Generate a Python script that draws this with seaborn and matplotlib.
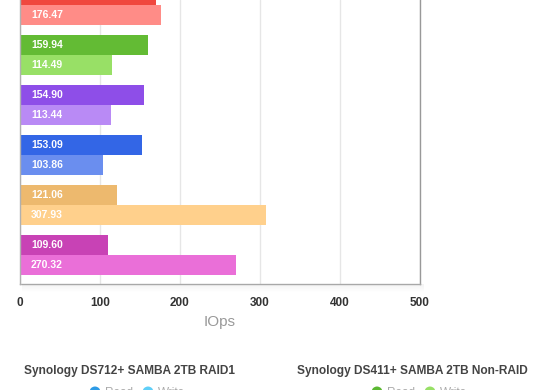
import matplotlib
matplotlib.use("Agg")
import matplotlib.pyplot as plt
import pandas as pd
import seaborn as sns
from matplotlib.patches import Rectangle, Ellipse

# --- data (top group is cut off in the reference) ---
devices = [
    "Device A",
    "Synology DS411+ SAMBA 2TB Non-RAID",
    "Device C",
    "Device D",
    "Device E",
    "Device F",
]
read_iops = [170.0, 159.94, 154.90, 153.09, 121.06, 109.60]
write_iops = [176.47, 114.49, 113.44, 103.86, 307.93, 270.32]

read_colors = ["#f0483e", "#63bb34", "#8e4ee8", "#3366e6", "#edb96e", "#c842b5"]
write_colors = ["#ff8c87", "#98e066", "#b98af5", "#6a8eef", "#ffd08c", "#ea6fd8"]

ticks = [0, 100, 200, 300, 400, 500]

legend_titles = ["Synology DS712+ SAMBA 2TB RAID1", "Synology DS411+ SAMBA 2TB Non-RAID"]
legend_colors = [("#2d9be6", "#5fcff8"), ("#5bb832", "#98e066")]

df = pd.DataFrame({
    "Device": devices * 2,
    "Op": ["Read"] * len(devices) + ["Write"] * len(devices),
    "IOps": read_iops + write_iops,
})

sns.set_theme(style="white")
plt.rcParams["font.family"] = ["Liberation Sans", "DejaVu Sans"]

W, H = 560, 390
fig = plt.figure(figsize=(W / 100, H / 100), dpi=100)
ax = fig.add_axes([20 / W, 106 / H, 400 / W, 284 / H])

sns.barplot(data=df, y="Device", x="IOps", hue="Op", orient="h",
            width=0.8, saturation=1, legend=False, ax=ax, errorbar=None)

# recolour each bar and write its value inside, at the left
for cont, cols, vals in zip(ax.containers, [read_colors, write_colors], [read_iops, write_iops]):
    for bar, c, v in zip(cont, cols, vals):
        bar.set_facecolor(c)
        bar.set_edgecolor("none")
        yc = bar.get_y() + bar.get_height() / 2
        ax.annotate(f"{v:.2f}", xy=(0, yc), xytext=(8, 0), textcoords="offset points",
                    ha="left", va="center", color="white", fontsize=7.5,
                    fontweight="bold", annotation_clip=False)

ax.set_xlim(0, 500)
ax.set_ylim(5.58, -0.1)
ax.set_xticks(ticks)
ax.set_xticklabels([str(t) for t in ticks], fontsize=8.5, fontweight="bold", color="#333333")
ax.tick_params(axis="x", length=0, pad=9)
ax.set_yticks([])
ax.set_ylabel("")
ax.set_xlabel("IOps", fontsize=11, color="#999999", labelpad=5)

ax.grid(axis="x", color="#e6e6e6", linewidth=1)
ax.set_axisbelow(True)
for side in ["left", "bottom"]:
    ax.spines[side].set_color("#b0b0b0")
    ax.spines[side].set_linewidth(1)
ax.spines["right"].set_color("#999999")
ax.spines["right"].set_linewidth(1)
ax.spines["top"].set_visible(False)

# faint drop shadow under the plot frame
for i in range(8):
    fig.patches.append(Rectangle((22 / W, (106 - 1 - i) / H), 402 / W, 1 / H,
                                 transform=fig.transFigure, facecolor="#000000",
                                 alpha=0.045 * (8 - i) / 8, edgecolor="none"))

# legend blocks (cut off at the bottom edge in the reference)
centers = [130, 412]
for cx, title, (c1, c2) in zip(centers, legend_titles, legend_colors):
    fig.text(cx / W, 1 - 371 / H, title, ha="center", va="center",
             fontsize=8.6, fontweight="bold", color="#444444")
    x0 = cx - 35
    for dx, c, lab in [(0, c1, "Read"), (53, c2, "Write")]:
        fig.patches.append(Ellipse(((x0 + dx) / W, 1 - 392 / H), 11 / W, 11 / H,
                                   transform=fig.transFigure, facecolor=c, edgecolor="none"))
        fig.text((x0 + dx + 10) / W, 1 - 393 / H, lab, ha="left", va="center",
                 fontsize=8.5, color="#aaaaaa")

fig.savefig("out.png", dpi=100)
